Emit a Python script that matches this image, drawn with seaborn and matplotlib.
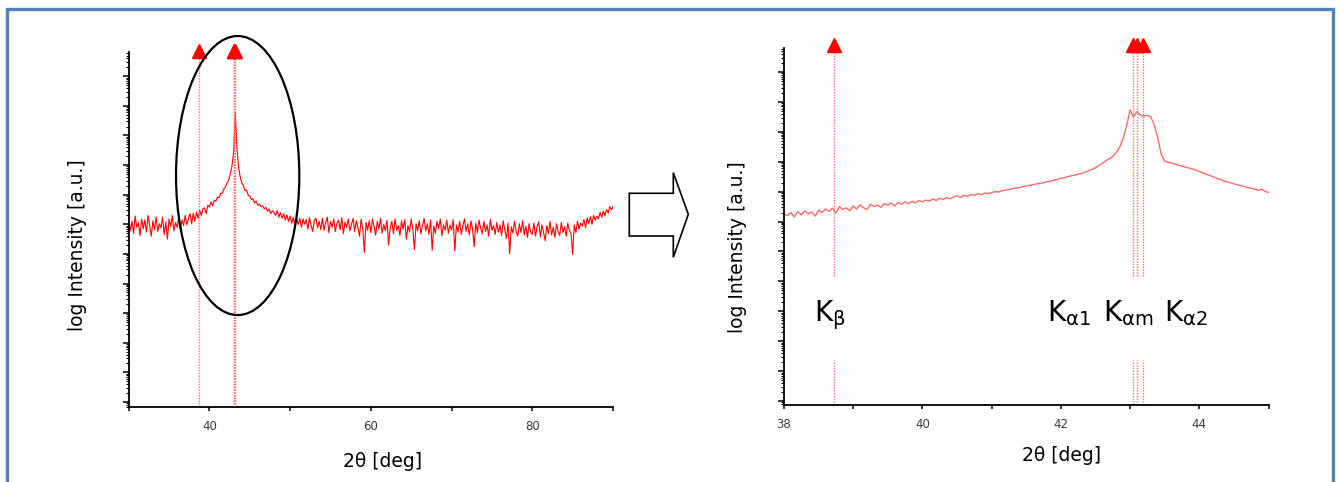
import numpy as np
import pandas as pd
import seaborn as sns
import matplotlib
matplotlib.use("Agg")
import matplotlib.pyplot as plt
import matplotlib.transforms as mtransforms
from matplotlib.patches import Ellipse, Polygon, Rectangle
from matplotlib.ticker import LogLocator, NullFormatter, FixedLocator

# ---------------- data ----------------
# wide scan: 2theta from 30 to 90 deg, step 0.2 deg, log10 intensity
wide_start, wide_step = 30.0, 0.2
wide_log_intensity = [
    6.22, 5.78, 6.10, 5.70, 6.28, 5.90, 6.05, 5.62, 6.18, 5.85,   # 30
    6.15, 5.74, 6.30, 5.95, 5.60, 6.12, 5.82, 6.25, 5.76, 6.02,   # 32
    5.88, 6.24, 5.66, 6.08, 5.50, 6.18, 5.92, 6.30, 5.78, 6.06,   # 34
    5.90, 6.26, 5.82, 6.15, 5.96, 6.30, 5.98, 6.20, 6.36, 6.02,   # 36
    6.38, 6.10, 6.42, 6.20, 6.48, 6.30, 6.52, 6.56, 6.36, 6.64,   # 38
    6.58, 6.76, 6.62, 6.82, 6.78, 6.92, 6.90, 7.04, 7.06, 7.20,   # 40
    7.26, 7.40, 7.50, 7.72, 7.98, 8.45, 9.75, 8.60, 7.95, 7.62,   # 42
    7.40, 7.32, 7.14, 7.16, 6.98, 6.96, 6.84, 6.86, 6.72, 6.78,   # 44
    6.64, 6.68, 6.60, 6.62, 6.52, 6.58, 6.44, 6.52, 6.36, 6.46,   # 46
    6.40, 6.30, 6.46, 6.24, 6.40, 6.20, 6.36, 6.14, 6.32, 6.10,   # 48
    6.28, 6.04, 6.24, 5.96, 6.22, 6.00, 6.20, 5.90, 6.18, 6.00,   # 50
    6.16, 5.84, 6.22, 5.96, 5.76, 6.14, 6.20, 5.88, 6.10, 5.82,   # 52
    6.20, 5.80, 6.06, 6.24, 5.72, 6.10, 5.90, 6.18, 5.76, 6.04,   # 54
    6.14, 5.82, 6.22, 5.68, 6.08, 5.90, 6.18, 5.78, 6.00, 6.20,   # 56
    5.76, 6.12, 5.88, 5.60, 6.18, 5.84, 5.05, 6.06, 5.80, 6.12,   # 58
    5.72, 6.18, 5.92, 5.64, 6.10, 5.84, 6.20, 5.70, 6.00, 5.78,   # 60
    6.14, 5.30, 5.90, 6.10, 5.68, 6.18, 5.80, 5.96, 5.62, 6.12,   # 62
    5.84, 6.16, 5.50, 5.96, 5.74, 6.18, 5.82, 5.15, 6.02, 5.78,   # 64
    6.12, 5.68, 5.96, 6.20, 5.78, 6.02, 5.66, 6.14, 5.12, 5.94,   # 66
    5.70, 6.10, 5.86, 6.18, 5.62, 5.98, 5.80, 6.14, 5.70, 5.98,   # 68
    5.80, 6.16, 5.10, 5.98, 5.74, 6.10, 5.66, 5.96, 6.18, 5.76,   # 70
    6.02, 5.64, 6.12, 5.84, 5.25, 6.04, 5.72, 6.14, 5.88, 5.68,   # 72
    6.10, 5.76, 5.98, 5.60, 6.16, 5.80, 5.96, 5.66, 6.06, 5.74,   # 74
    5.98, 5.62, 6.12, 5.80, 5.52, 6.04, 5.00, 5.92, 5.70, 6.10,   # 76
    5.76, 5.60, 6.02, 5.72, 6.12, 5.64, 5.94, 5.56, 6.02, 5.74,   # 78
    5.66, 6.04, 5.60, 5.92, 6.08, 5.58, 5.98, 5.72, 5.45, 5.96,   # 80
    5.68, 6.10, 5.64, 5.90, 5.56, 6.02, 5.76, 5.62, 6.06, 5.72,   # 82
    5.92, 5.60, 6.04, 5.78, 5.70, 4.98, 5.98, 5.72, 6.10, 5.84,   # 84
    6.04, 5.94, 6.16, 5.88, 6.22, 6.02, 6.26, 6.00, 6.30, 6.14,   # 86
    6.28, 6.18, 6.40, 6.24, 6.44, 6.30, 6.50, 6.38, 6.60, 6.48,   # 88
    6.60,                                                         # 90
]

# detail scan: 2theta from 38 to 45 deg, step 0.05 deg, log10 intensity
zoom_start, zoom_step = 38.0, 0.05
zoom_log_intensity = [
    6.25, 6.20, 6.30, 6.16, 6.33, 6.22, 6.36, 6.26, 6.32, 6.18,   # 38.0
    6.38, 6.30, 6.42, 6.34, 6.45, 6.28, 6.50, 6.40, 6.46, 6.36,   # 38.5
    6.52, 6.42, 6.56, 6.46, 6.40, 6.58, 6.50, 6.55, 6.47, 6.60,   # 39.0
    6.55, 6.62, 6.52, 6.64, 6.58, 6.66, 6.60, 6.68, 6.62, 6.70,   # 39.5
    6.66, 6.72, 6.68, 6.76, 6.70, 6.78, 6.74, 6.80, 6.76, 6.82,   # 40.0
    6.86, 6.80, 6.88, 6.84, 6.90, 6.88, 6.93, 6.90, 6.95, 6.94,   # 40.5
    6.97, 7.00, 6.99, 7.03, 7.05, 7.07, 7.10, 7.12, 7.13, 7.16,   # 41.0
    7.19, 7.21, 7.23, 7.26, 7.28, 7.30, 7.33, 7.35, 7.38, 7.41,   # 41.5
    7.44, 7.47, 7.50, 7.53, 7.55, 7.58, 7.61, 7.65, 7.70, 7.74,   # 42.0
    7.80, 7.87, 7.95, 8.03, 8.10, 8.17, 8.30, 8.48, 8.78, 9.20,   # 42.5
    9.73, 9.50, 9.68, 9.55, 9.53, 9.55, 9.50, 9.22, 8.80, 8.25,   # 43.0
    8.02, 7.98, 7.96, 7.92, 7.88, 7.85, 7.82, 7.79, 7.76, 7.72,   # 43.5
    7.67, 7.63, 7.58, 7.54, 7.50, 7.45, 7.41, 7.36, 7.33, 7.30,   # 44.0
    7.26, 7.23, 7.20, 7.17, 7.14, 7.11, 7.09, 7.05, 7.08, 7.01,   # 44.5
    6.97,                                                         # 45.0
]

line_names = [r"$\mathregular{K_{\beta}}$", r"$\mathregular{K_{\alpha 1}}$",
              r"$\mathregular{K_{\alpha m}}$", r"$\mathregular{K_{\alpha 2}}$"]
line_positions = [38.72, 43.04, 43.10, 43.19]
label_positions = [38.44, 41.80, 42.61, 43.49]

wide_ticks, wide_minor = [40, 60, 80], [30, 50, 70, 90]
zoom_ticks, zoom_minor = [38, 40, 42, 44], [39, 41, 43, 45]

# ---------------- figure ----------------
W, H = 1341, 482
sns.set_theme(style="ticks")
plt.rcParams["font.family"] = ["DejaVu Sans"]
plt.rcParams["mathtext.fontset"] = "dejavusans"
plt.rcParams["mathtext.default"] = "regular"

fig = plt.figure(figsize=(W / 100, H / 100), dpi=100)
fig.patch.set_facecolor("white")


def px_axes(left, right, top, bottom):
    return fig.add_axes([left / W, 1 - bottom / H, (right - left) / W, (bottom - top) / H])


axL = px_axes(128.7, 613, 52, 407)
axR = px_axes(784, 1268.5, 48, 405)

wide_df = pd.DataFrame({
    "two_theta": wide_start + wide_step * np.arange(len(wide_log_intensity)),
    "intensity": 10.0 ** np.array(wide_log_intensity),
})
zoom_df = pd.DataFrame({
    "two_theta": zoom_start + zoom_step * np.arange(len(zoom_log_intensity)),
    "intensity": 10.0 ** np.array(zoom_log_intensity),
})

for ax in (axL, axR):
    ax.set_yscale("log")
    ax.set_facecolor("white")

sns.lineplot(data=wide_df, x="two_theta", y="intensity", ax=axL,
             color="#ff0000", lw=0.8, estimator=None)
sns.lineplot(data=zoom_df, x="two_theta", y="intensity", ax=axR,
             color="#ff6a6a", lw=1.0, estimator=None)

axL.set_xlim(30, 90)
axL.set_ylim(10 ** -0.17, 10 ** 11.82)
axR.set_xlim(38, 45)
axR.set_ylim(10 ** -0.13, 10 ** 11.8)

dot_color = "#ff6f6f"
for xp in line_positions:
    axL.axvline(xp, 0, 1, color=dot_color, lw=1.0, ls=(0, (1, 1)))
    axR.axvline(xp, 0, 0.126, color=dot_color, lw=1.0, ls=(0, (1, 1)))
    axR.axvline(xp, 0.361, 1, color=dot_color, lw=1.0, ls=(0, (1, 1)))

for ax, yoff in ((axL, 1.004), (axR, 1.008)):
    tr = mtransforms.blended_transform_factory(ax.transData, ax.transAxes)
    ax.plot(line_positions, [yoff] * len(line_positions), ls="none", marker="^",
            ms=10.5, color="#ff0000", mec="#ff0000", transform=tr, clip_on=False, zorder=5)

trR = mtransforms.blended_transform_factory(axR.transData, axR.transAxes)
for name, xp in zip(line_names, label_positions):
    axR.text(xp, 0.234, name, transform=trR, fontsize=20, color="black",
             ha="left", va="baseline")

# axes styling
for ax, major, minor in ((axL, wide_ticks, wide_minor), (axR, zoom_ticks, zoom_minor)):
    for side in ("top", "right"):
        ax.spines[side].set_visible(False)
    for side in ("left", "bottom"):
        ax.spines[side].set_color("black")
        ax.spines[side].set_linewidth(1.3)
    ax.xaxis.set_major_locator(FixedLocator(major))
    ax.xaxis.set_minor_locator(FixedLocator(minor))
    ax.set_xticklabels([str(v) for v in major])
    ax.yaxis.set_major_locator(LogLocator(base=10, numticks=100))
    ax.yaxis.set_minor_locator(LogLocator(base=10, subs=np.arange(2, 10), numticks=100))
    ax.yaxis.set_major_formatter(NullFormatter())
    ax.yaxis.set_minor_formatter(NullFormatter())
    ax.tick_params(axis="x", which="both", direction="out", length=3.2, width=1.1,
                   color="black", labelsize=8.5, labelcolor="#3a3a3a", pad=6)
    ax.tick_params(axis="y", which="major", direction="out", length=4.5, width=1.1, color="black")
    ax.tick_params(axis="y", which="minor", direction="out", length=2.2, width=0.8, color="black")
    ax.set_xlabel("2θ [deg]", fontsize=13.5, color="black")
    ax.set_ylabel("log Intensity [a.u.]", fontsize=13.5, color="black")
    ax.grid(False)

axL.xaxis.set_label_coords(0.5245, -0.127)
axR.xaxis.set_label_coords(0.573, -0.115)
axL.yaxis.set_label_coords(-0.0867, 0.456)
axR.yaxis.set_label_coords(-0.077, 0.4426)

# ellipse highlighting the peak region
axL.add_patch(Ellipse((0.225, 0.652), 0.2546, 0.786, transform=axL.transAxes,
                      fill=False, edgecolor="black", lw=1.6, clip_on=False, zorder=6))

# block arrow between the panels (figure pixel coordinates)
arrow_px = [(629.3, 193.3), (673.3, 193.3), (673.3, 172.7), (688.3, 214.3),
            (673.3, 257.3), (673.3, 236.0), (629.3, 236.0)]
fig.add_artist(Polygon([(x / W, 1 - y / H) for x, y in arrow_px], closed=True,
                       fill=False, edgecolor="black", lw=1.2, transform=fig.transFigure))

# blue frame
fig.add_artist(Rectangle((6.7 / W, -0.1), (1333.3 - 6.7) / W, (1 - 9 / H) + 0.1,
                         fill=False, edgecolor="#5082be", lw=2.4, transform=fig.transFigure))

fig.savefig("out.png", dpi=100, facecolor="white")
